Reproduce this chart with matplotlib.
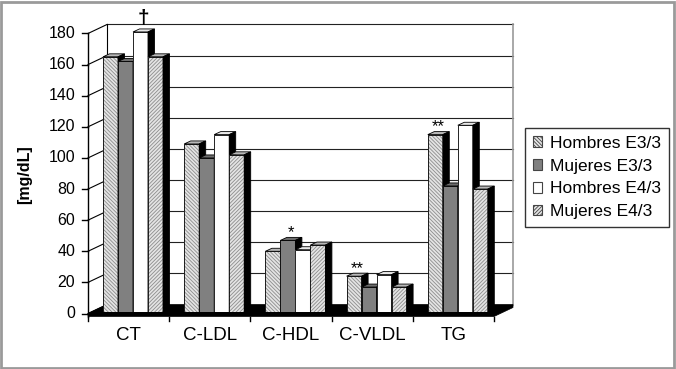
import matplotlib
matplotlib.use("Agg")
import matplotlib.pyplot as plt
from matplotlib.patches import Polygon, Rectangle, Patch

# ---- data ----
categories = ["CT", "C-LDL", "C-HDL", "C-VLDL", "TG"]
series_names = ["Hombres E3/3", "Mujeres E3/3", "Hombres E4/3", "Mujeres E4/3"]
hombres_e33 = [164, 108, 39, 23, 114]
mujeres_e33 = [161, 99, 46, 16, 81]
hombres_e43 = [180, 114, 40, 24, 120]
mujeres_e43 = [164, 101, 43, 16, 79]
y_ticks = [0, 20, 40, 60, 80, 100, 120, 140, 160, 180]
y_label = "[mg/dL]"
# significance marks: (category index, series index, symbol)
marks = [(0, 2, "\u2020"), (2, 1, "*"), (3, 0, "**"), (4, 0, "**")]

values = [hombres_e33, mujeres_e33, hombres_e43, mujeres_e43]

plt.rcParams["font.family"] = ["Liberation Sans", "DejaVu Sans"]
plt.rcParams["hatch.linewidth"] = 0.6

# scale: pixels per category / per mg/dL
PX_X = 81.2
PX_Y = 1.5556
W, H = 676, 369
X0, Y0 = 88, 313.5   # pixel position of the front-left floor corner

fig = plt.figure(figsize=(W / 100, H / 100), dpi=100)
ax = fig.add_axes([0, 0, 1, 1])
ax.set_xlim(-X0 / PX_X, (W - X0) / PX_X)
ax.set_ylim(-(H - Y0) / PX_Y, Y0 / PX_Y)
ax.axis("off")

ncat = len(categories)
ymax = y_ticks[-1]
DX, DY = 19 / PX_X, 9 / PX_Y          # wall depth
BDX, BDY = 6.5 / PX_X, 3 / PX_Y       # bar depth
BASE = 1.0                            # bars sit slightly behind the front edge
BAR_W = 15 / PX_X
GROUP_OFF = 15 / PX_X
FLOOR_T = 3 / PX_Y

# back wall
ax.add_patch(Rectangle((DX, DY), ncat, ymax, facecolor="white", edgecolor="none", zorder=0))
for v in y_ticks[1:]:
    ax.plot([DX, ncat + DX], [v + DY, v + DY], color="#222222", lw=0.8, zorder=1)
ax.plot([DX, DX], [DY, ymax + DY], color="black", lw=0.8, zorder=1)
ax.plot([ncat + DX, ncat + DX], [DY, ymax + DY], color="#999999", lw=1.2, zorder=1)
# side wall lines
for v in y_ticks:
    ax.plot([0, DX], [v, v + DY], color="black", lw=0.8, zorder=1)

# floor
floor = Polygon([(0, -FLOOR_T), (ncat, -FLOOR_T), (ncat + DX, DY - FLOOR_T),
                 (ncat + DX, DY), (DX, DY), (0, 0)],
                closed=True, facecolor="black", edgecolor="black", lw=0.5, zorder=2)
ax.add_patch(floor)

# front value axis
ax.plot([0, 0], [-FLOOR_T, ymax], color="black", lw=1.0, zorder=3)
for v in y_ticks:
    ax.plot([-6 / PX_X, 0], [v, v], color="black", lw=1.0, zorder=3)
    ax.text(-13 / PX_X, v, str(v), ha="right", va="center", fontsize=11.5, zorder=3)
for i in range(ncat + 1):
    ax.plot([i, i], [-FLOOR_T, -FLOOR_T - 4 / PX_Y], color="black", lw=1.0, zorder=3)
for i, c in enumerate(categories):
    ax.text(i + 0.5, -21.5 / PX_Y, c, ha="center", va="center", fontsize=13.5, zorder=3)

ax.text(-63 / PX_X, (Y0 - 175) / PX_Y, y_label, rotation=90, ha="center", va="center",
        fontsize=11.5, fontweight="bold")

styles = [
    dict(face="#e4e4e4", hatch="\\\\\\\\\\\\\\\\\\", hcol="#8c8c8c"),
    dict(face="#808080", hatch=None, hcol="#808080"),
    dict(face="white", hatch=None, hcol="white"),
    dict(face="#e4e4e4", hatch="/////////", hcol="#8c8c8c"),
]
top_shade = ["#b8b8b8", "#6e6e6e", "#e8e8e8", "#b8b8b8"]

z = 4
for i in range(ncat):
    for j, vals in enumerate(values):
        st = styles[j]
        x0 = i + GROUP_OFF + j * BAR_W
        top = vals[i] + BASE
        # front face
        ax.bar(x0, vals[i], width=BAR_W, bottom=BASE, align="edge",
               color=st["face"], hatch=st["hatch"], edgecolor=st["hcol"], lw=0, zorder=z)
        ax.bar(x0, vals[i], width=BAR_W, bottom=BASE, align="edge",
               fill=False, edgecolor="black", lw=0.6, zorder=z + 0.1)
        # top face
        top_pts = [(x0, top), (x0 + BAR_W, top), (x0 + BAR_W + BDX, top + BDY), (x0 + BDX, top + BDY)]
        ax.add_patch(Polygon(top_pts, closed=True, facecolor=top_shade[j], edgecolor="black",
                             lw=0.6, zorder=z + 0.2))
        # side face
        side_pts = [(x0 + BAR_W, BASE), (x0 + BAR_W + BDX, BASE + BDY),
                    (x0 + BAR_W + BDX, top + BDY), (x0 + BAR_W, top)]
        ax.add_patch(Polygon(side_pts, closed=True, facecolor="black", edgecolor="black",
                             lw=0.6, zorder=z + 0.4))
        z += 1

# significance marks
for ci, si, sym in marks:
    xc = ci + GROUP_OFF + (si + 0.5) * BAR_W + BDX / 2
    top = values[si][ci] + BASE
    if sym == "\u2020":
        ax.text(xc, top + 13 / PX_Y, sym, ha="center", va="center", fontsize=15,
                fontweight="bold", zorder=100)
    else:
        ax.text(xc, top + 8 / PX_Y, sym, ha="center", va="center", fontsize=12,
                zorder=100)

handles = [Patch(facecolor=st["face"], hatch=st["hatch"], edgecolor="#444444", lw=0.8)
           for st in styles]
leg = ax.legend(handles, series_names, loc="upper left",
                bbox_to_anchor=(525 / W, 1 - 128 / H), bbox_transform=fig.transFigure,
                fontsize=12.5, frameon=True, fancybox=False, edgecolor="black",
                handlelength=0.55, handleheight=0.55, handletextpad=0.45,
                labelspacing=0.45, borderpad=0.45, borderaxespad=0)
leg.get_frame().set_linewidth(1.0)

# outer frame of the picture
fig.patches.append(Rectangle((1 / W, 1 / H), 1 - 3 / W, 1 - 3 / H, transform=fig.transFigure,
                             fill=False, edgecolor="#9a9a9a", lw=2.0))

fig.savefig("out.png", dpi=100)
plt.close(fig)
